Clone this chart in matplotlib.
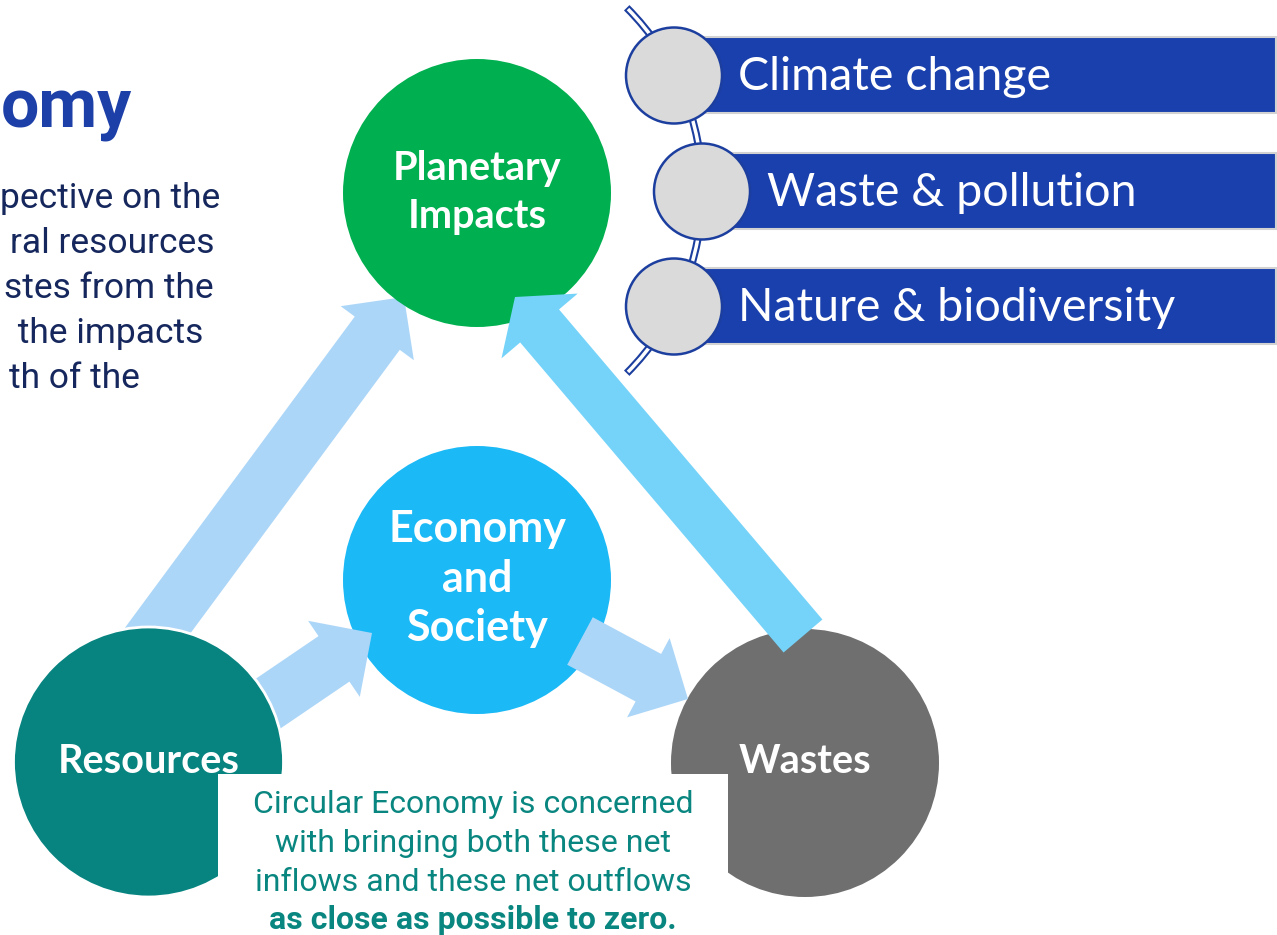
# Circular economy diagram: resources -> economy -> wastes, with planetary impacts
import numpy as np
import matplotlib.pyplot as plt
from matplotlib.patches import Circle, Rectangle, FancyArrow, Arc

# text content
title_tail = "omy"
intro_lines = ["pective on the", "ral resources", "stes from the", " the impacts", "th of the"]
node_labels = ["Planetary\nImpacts", "Economy\nand\nSociety", "Resources", "Wastes"]
node_colors = ["#00b050", "#1bb9f6", "#078480", "#6f6f6f"]
impact_labels = ["Climate change", "Waste & pollution", "Nature & biodiversity"]
note_lines = ["Circular Economy is concerned", "with bringing both these net",
              "inflows and these net outflows"]
note_bold = "as close as possible to zero."

# layout (pixels, y downwards)
node_xy = [(477, 193), (477, 580), (148.5, 762), (805, 763)]
node_r = 134
node_font = [28.5, 31, 28.5, 28.5]

fig = plt.figure(figsize=(12.77, 9.35), dpi=100)
ax = fig.add_axes([0, 0, 1, 1])
ax.set_xlim(0, 1277)
ax.set_ylim(935, 0)
ax.axis('off')

# top-left text (cut off at the left edge)
ax.text(132, 128, title_tail, ha='right', va='baseline', fontsize=49,
        fontweight='bold', color='#1d3fa8', family='Roboto')
intro_right = [220, 215, 214, 203, 140]
for i, line in enumerate(intro_lines):
    ax.text(intro_right[i], 208 + 45 * i, line, ha='right', va='baseline',
            fontsize=25.5, color='#15275c', family='Roboto')

# arrows
light = '#acd6f8'
arrow_specs = [
    # tail, tip, width, head_width, head_length, color, z
    ((130, 668), (404, 297), 56, 91, 45, light, 1),
    ((803, 636), (515, 297), 51, 100, 38, '#75d3f9', 3),
    ((244, 720), (372, 633), 55, 92, 46, light, 3),
    ((580, 641), (688, 699), 54, 90, 45, light, 3),
]
for (x0, y0), (x1, y1), w, hw, hl, col, z in arrow_specs:
    ax.add_patch(FancyArrow(x0, y0, x1 - x0, y1 - y0, width=w, head_width=hw,
                            head_length=hl, length_includes_head=True,
                            fc=col, ec='none', zorder=z))

# nodes
for i, (xy, col) in enumerate(zip(node_xy, node_colors)):
    if i == 2:
        ax.add_patch(Circle(xy, node_r + 1, fc=col, ec='white', lw=2, zorder=4))
    else:
        ax.add_patch(Circle(xy, node_r, fc=col, ec='none', zorder=2))

# white box under the note, covering bottom of the lower circles
ax.add_patch(Rectangle((218, 774), 510, 200, fc='white', ec='none', zorder=5))

baselines = [[180, 228], [542, 592, 641], [773], [773]]
for i, lab in enumerate(node_labels):
    for j, line in enumerate(lab.split("\n")):
        ax.text(node_xy[i][0], baselines[i][j], line, ha='center', va='baseline',
                fontsize=node_font[i], fontweight='bold', color='white',
                family='Lato', zorder=6)

for i, line in enumerate(note_lines):
    ax.text(473, 813 + 39 * i, line, ha='center', va='baseline', fontsize=23,
            color='#0a8680', family='Roboto', zorder=6)
ax.text(473, 929, note_bold, ha='center', va='baseline', fontsize=23,
        fontweight='bold', color='#0a8680', family='Roboto', zorder=6)

# impact list on the right
ax.add_patch(Arc((444, 190.5), 2 * 258.4, 2 * 258.4, theta1=-45, theta2=45,
                 ec='#1c3f9f', lw=5.5, zorder=1))
ax.add_patch(Arc((444, 190.5), 2 * 258.4, 2 * 258.4, theta1=-44.6, theta2=44.6,
                 ec='white', lw=2.5, zorder=1))
bar_tops = [37, 153, 268]
bubble_x = [674, 702, 674]
text_x = [738, 767, 738]
for i, lab in enumerate(impact_labels):
    ax.add_patch(Rectangle((bubble_x[i], bar_tops[i]), 1276 - bubble_x[i], 76,
                           fc='#1a40ad', ec='#d2d2d2', lw=1.5, zorder=2))
    ax.add_patch(Circle((bubble_x[i], bar_tops[i] + 38.5), 48, fc='#dadada',
                        ec='#1c3f9f', lw=1.8, zorder=3))
    ax.text(text_x[i], bar_tops[i] + 53, lab, ha='left', va='baseline',
            fontsize=33.5, color='white', family='Lato', zorder=4)

fig.savefig('out.png', dpi=100)
